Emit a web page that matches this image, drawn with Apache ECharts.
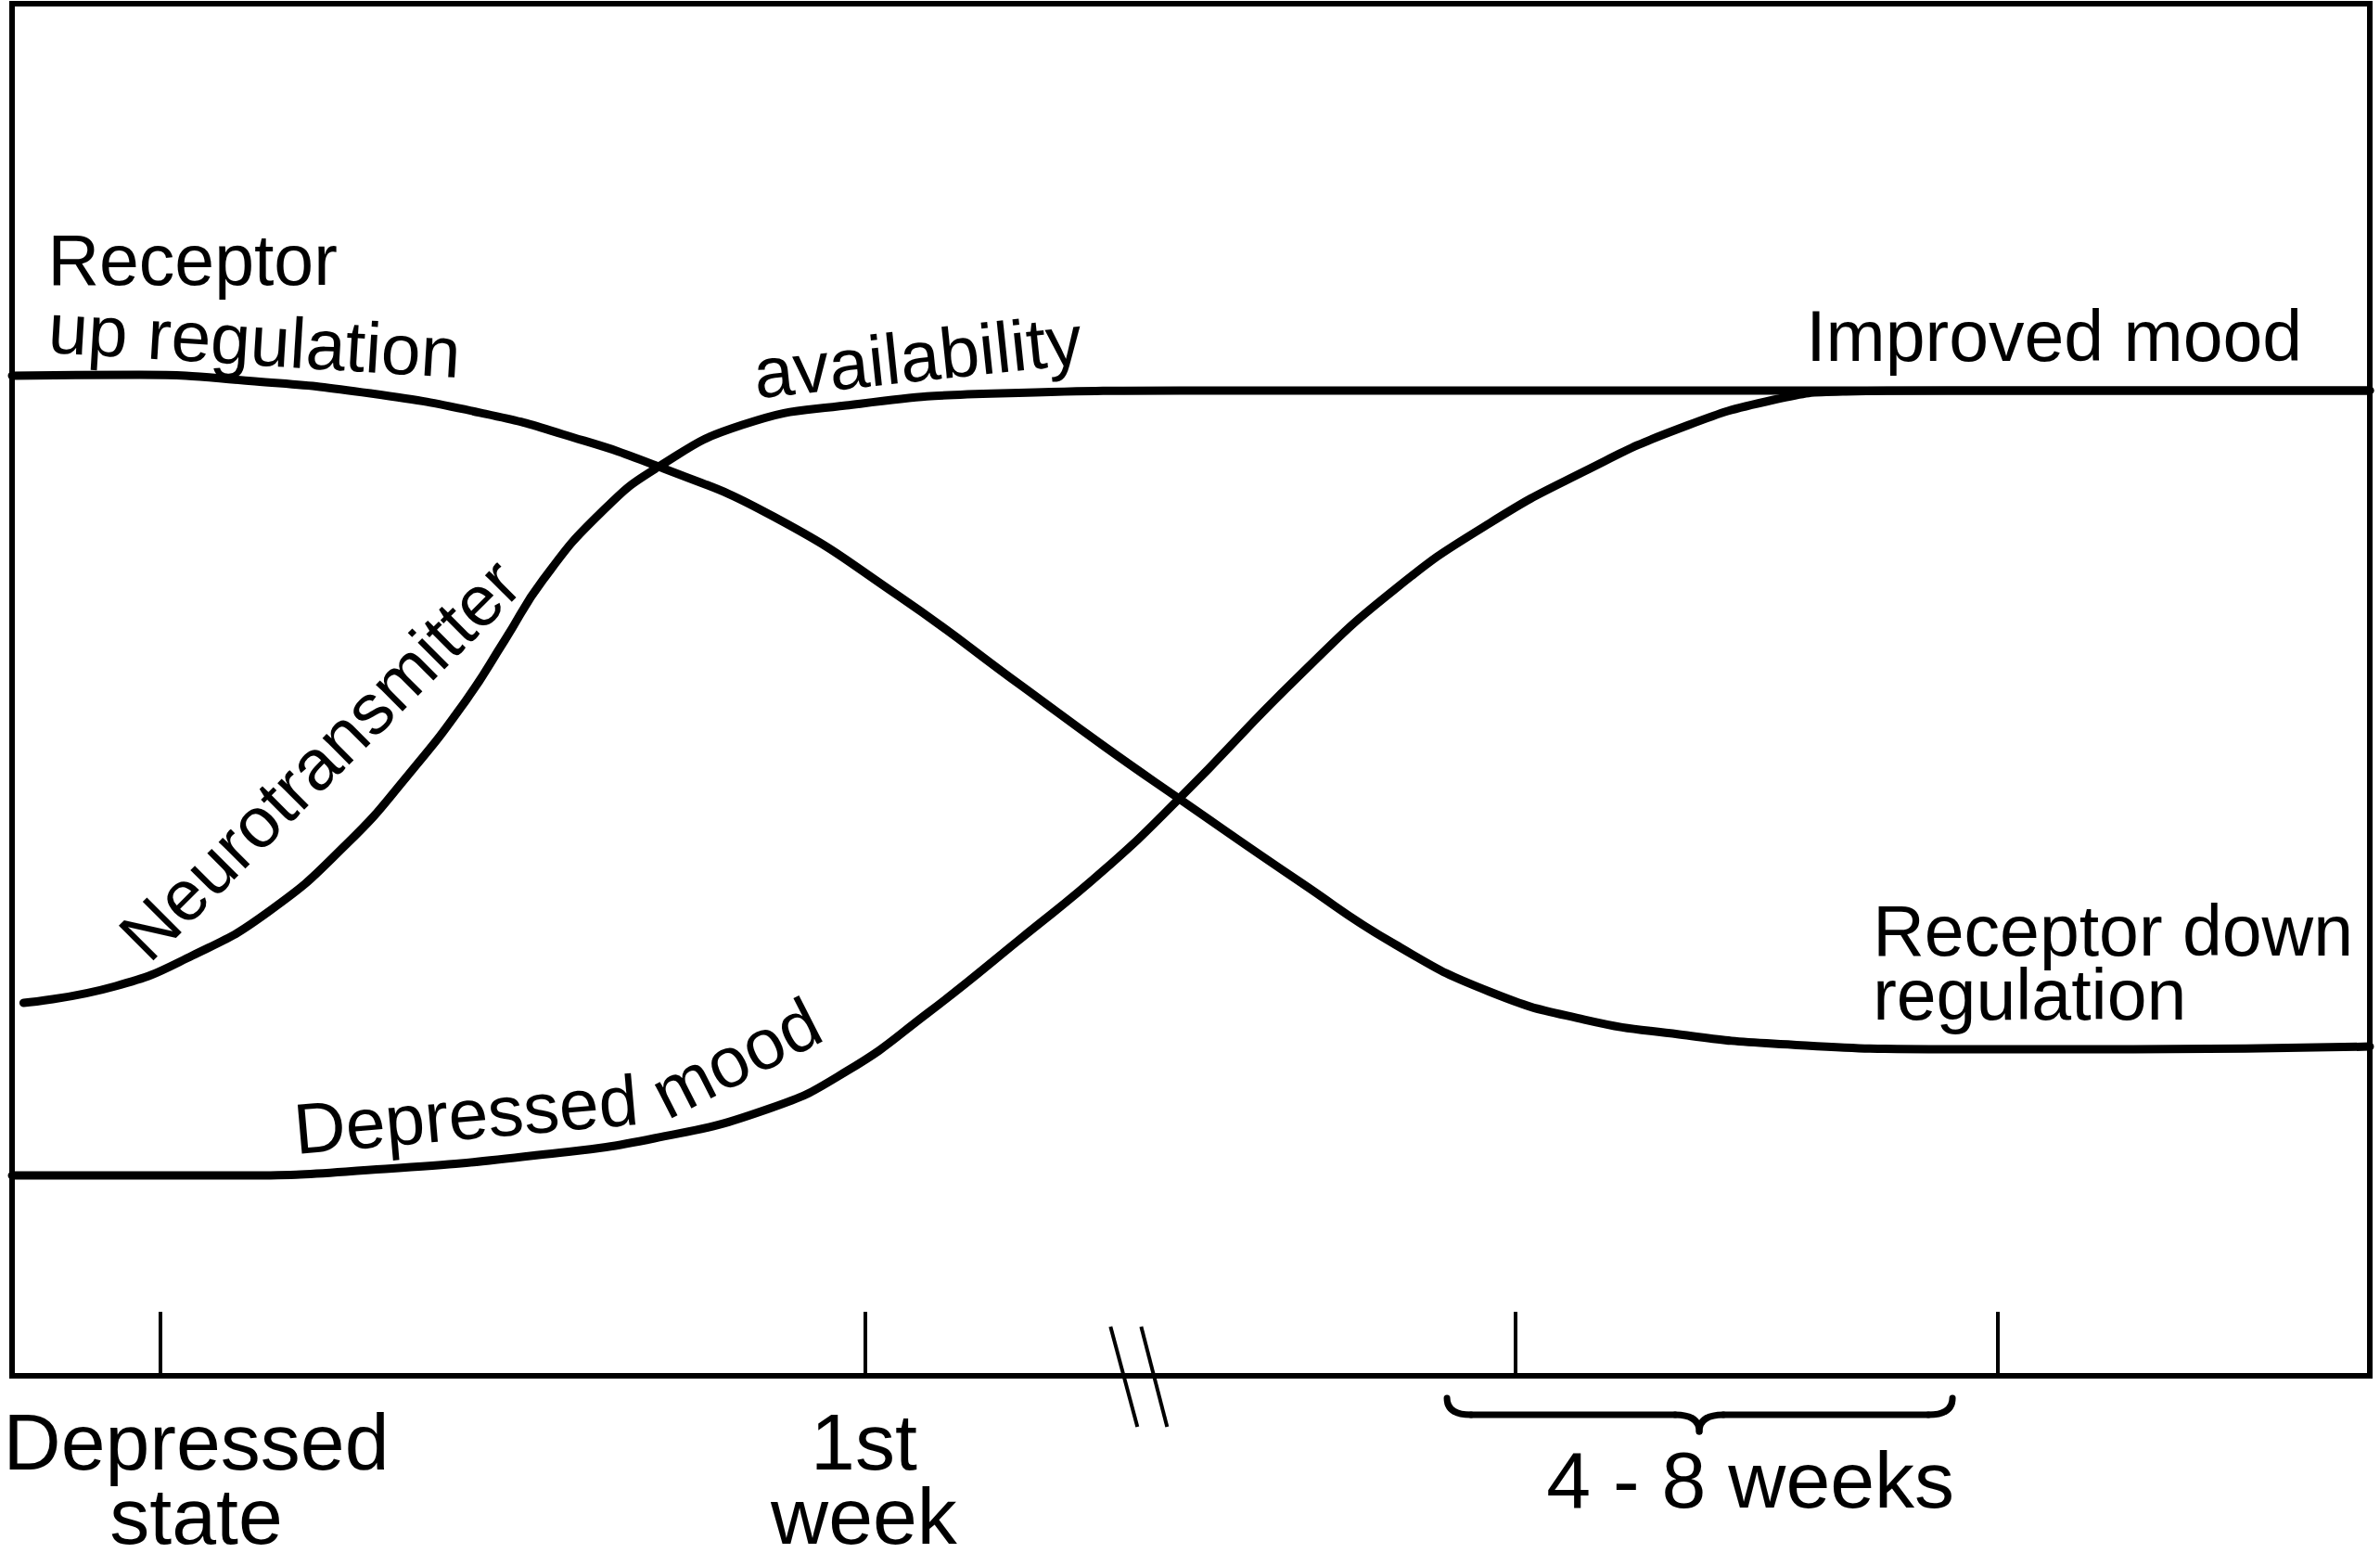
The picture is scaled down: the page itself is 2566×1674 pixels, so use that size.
<!DOCTYPE html>
<html>
<head>
<meta charset="utf-8">
<script src="https://cdn.jsdelivr.net/npm/echarts@6/dist/echarts.min.js"></script>
<style>
html,body{margin:0;padding:0;background:#fff;}
#chart{width:2566px;height:1674px;}
</style>
</head>
<body>
<div id="chart"></div>
<script>
// ---- data (x: 0..100 across the time frame, y: 0..100 level) ----
const receptorX = [0, 5.41, 10.29, 15.2, 20.08, 23.34, 27.43, 32.31, 37.58, 42.85, 46.35, 49.5, 54.65, 58.66, 62.67, 66.69, 70.7, 74.71, 82.1, 89.97, 100];
const receptorY = [72.89, 72.95, 72.48, 71.6, 70.11, 68.63, 66.26, 62.61, 56.86, 50.24, 45.84, 42.06, 35.97, 31.44, 27.99, 25.96, 24.88, 24.21, 23.8, 23.8, 24.0];

const transmitterX = [0.49, 4.39, 7.65, 10.91, 14.18, 16.81, 19.25, 20.9, 22.52, 24.96, 27.43, 30.97, 35.38, 41.91, 50.64, 100];
const transmitterY = [27.18, 28.4, 30.63, 33.87, 38.74, 43.81, 49.22, 53.62, 58.01, 62.88, 66.26, 69.3, 70.72, 71.6, 71.81, 71.81];

const moodX = [0, 9.3, 15.83, 22.32, 27.24, 32.11, 35.38, 38.84, 42.77, 46.35, 49.5, 54.65, 58.66, 62.67, 66.69, 70.7, 74.71, 77.78, 82.1, 100];
const moodY = [14.6, 14.6, 15.08, 16.09, 17.31, 19.47, 22.18, 26.44, 31.85, 36.92, 42.06, 51.12, 57.34, 62.14, 65.92, 69.03, 71.13, 71.74, 71.81, 71.81];

const tickValues = [6.27, 36.2, 63.74, 84.23];
const tickLabelValues = [7.81, 36.13];
const tickLabels = ['Depressed\nstate', '1st\nweek'];
const rangeLabel = '4 - 8 weeks';

(function () {
function zip(xs, ys) { return xs.map((x, i) => [x, ys[i]]); }

const FONT = "'Liberation Sans', Arial, Helvetica, sans-serif";
const chart = echarts.init(document.getElementById('chart'), null, {renderer: 'svg'});

const lineStyle = {color: '#000', width: 9, cap: 'round', join: 'round'};
const lineCommon = {type: 'line', showSymbol: false, symbol: 'none', smooth: 0.5, lineStyle: lineStyle, z: 3};
const option = {
  backgroundColor: '#fff',
  animation: false,
  grid: {left: 13, right: 11, top: 4, bottom: 191, show: true, borderColor: '#000', borderWidth: 6,
         containLabel: false, outerBoundsMode: 'none'},
  xAxis: {
    type: 'value', min: 0, max: 100,
    axisLine: {show: false},
    splitLine: {show: false},
    axisTick: {show: true, inside: true, length: 69, lineStyle: {color: '#000', width: 4}, customValues: tickValues},
    axisLabel: {
      show: true, customValues: tickLabelValues, margin: 31,
      color: '#000', fontFamily: FONT, fontSize: 86, lineHeight: 80,
      formatter: function (v) {
        let best = 0;
        tickLabelValues.forEach((t, i) => { if (Math.abs(t - v) < Math.abs(tickLabelValues[best] - v)) best = i; });
        return tickLabels[best];
      }
    }
  },
  yAxis: {type: 'value', min: 0, max: 100, show: false},
  series: [
    Object.assign({name: 'Receptor regulation', data: zip(receptorX, receptorY)}, lineCommon),
    Object.assign({name: 'Neurotransmitter availability', data: zip(transmitterX, transmitterY)}, lineCommon),
    Object.assign({name: 'Mood', data: zip(moodX, moodY)}, lineCommon)
  ]
};
chart.setOption(option);

function px(u, v) { return chart.convertToPixel({gridIndex: 0}, [u, v]); }
const deg = d => d * Math.PI / 180;

function label(text, u, v, opts) {
  const p = px(u, v);
  const style = {text: text, fill: '#000', fontFamily: FONT, fontSize: opts.size || 77,
                 align: opts.align || 'left', verticalAlign: 'middle'};
  if (opts.lineHeight) style.lineHeight = opts.lineHeight;
  return {type: 'text', x: p[0], y: p[1], rotation: deg(opts.rot || 0), z: 10, style: style};
}

const g = [];
g.push(label('Receptor', 1.51, 81.34, {}));
g.push(label('up regulation', 1.55, 76.4, {rot: -3.5}));
g.push(label('availability', 38.41, 74.31, {align: 'center', rot: 6}));
g.push(label('Neurotransmitter', 13.04, 44.96, {align: 'center', rot: 45}));
g.push(label('Depressed', 19.25, 19.07, {align: 'center', rot: 5}));
g.push(label('mood', 30.7, 23.19, {align: 'center', rot: 27}));
g.push(label('Improved mood', 76.09, 75.79, {}));
g.push(label('Receptor down\nregulation', 78.92, 30.12, {lineHeight: 69}));
g.push(label(rangeLabel, 73.73, -7.57, {align: 'center', size: 86}));

// brace under the 4-8 weeks range
const bL = px(60.86, -1.62), bR = px(82.3, -1.62), bM = px(71.56, -4.06), bBar = px(71.56, -2.84);
const yTop = bL[1], yBar = bBar[1], yTip = bM[1], xL = bL[0], xR = bR[0], xM = bM[0], r = 26;
const bs = {stroke: '#000', lineWidth: 7, fill: null, lineCap: 'round'};
g.push({type: 'bezierCurve', z: 10, shape: {x1: xL, y1: yTop, cpx1: xL, cpy1: yBar, x2: xL + r, y2: yBar}, style: bs});
g.push({type: 'line', z: 10, shape: {x1: xL + r, y1: yBar, x2: xM - r, y2: yBar}, style: bs});
g.push({type: 'bezierCurve', z: 10, shape: {x1: xM - r, y1: yBar, cpx1: xM, cpy1: yBar, x2: xM, y2: yTip}, style: bs});
g.push({type: 'bezierCurve', z: 10, shape: {x1: xM, y1: yTip, cpx1: xM, cpy1: yBar, x2: xM + r, y2: yBar}, style: bs});
g.push({type: 'line', z: 10, shape: {x1: xM + r, y1: yBar, x2: xR - r, y2: yBar}, style: bs});
g.push({type: 'bezierCurve', z: 10, shape: {x1: xR - r, y1: yBar, cpx1: xR, cpy1: yBar, x2: xR, y2: yTop}, style: bs});

// axis break marks
const k1a = px(46.59, 3.58), k1b = px(47.73, -3.72), k2a = px(47.89, 3.58), k2b = px(48.99, -3.72);
const ks = {stroke: '#000', lineWidth: 4};
g.push({type: 'line', z: 10, shape: {x1: k1a[0], y1: k1a[1], x2: k1b[0], y2: k1b[1]}, style: ks});
g.push({type: 'line', z: 10, shape: {x1: k2a[0], y1: k2a[1], x2: k2b[0], y2: k2b[1]}, style: ks});

chart.setOption({graphic: {elements: g}});
})();
</script>
</body>
</html>
